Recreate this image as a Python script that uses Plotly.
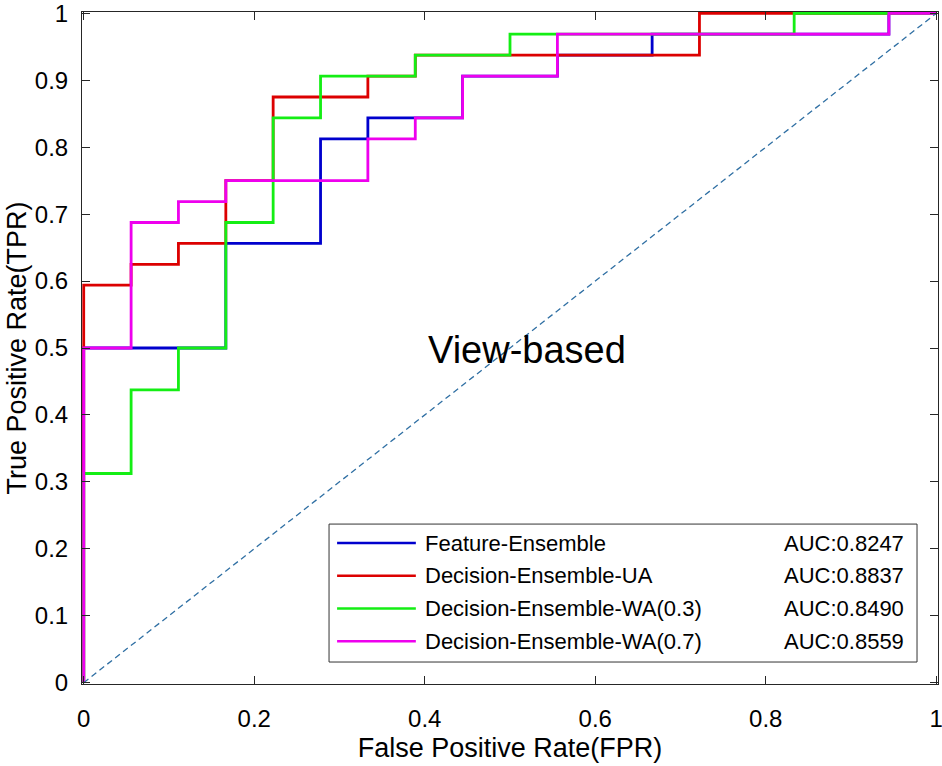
import plotly.graph_objects as go

# ROC staircase points (fpr = right end of each level, tpr = level), drawn with line_shape vh
fpr_feat = [0, 0.1667, 0.2778, 0.3333, 0.4444, 0.5556, 0.6667, 0.9444, 1]
tpr_feat = [0, 0.5, 0.6563, 0.8125, 0.8438, 0.9063, 0.9375, 0.9688, 1]

fpr_ua = [0, 0.0556, 0.1111, 0.1667, 0.2222, 0.3333, 0.3889, 0.7222, 1]
tpr_ua = [0, 0.5938, 0.625, 0.6563, 0.75, 0.875, 0.9063, 0.9375, 1]

fpr_wa3 = [0, 0.0556, 0.1111, 0.1667, 0.2222, 0.2778, 0.3889, 0.5, 0.8333, 1]
tpr_wa3 = [0, 0.3125, 0.4375, 0.5, 0.6875, 0.8438, 0.9063, 0.9375, 0.9688, 1]

fpr_wa7 = [0, 0.0556, 0.1111, 0.1667, 0.3333, 0.3889, 0.4444, 0.5556, 0.9444, 1]
tpr_wa7 = [0, 0.5, 0.6875, 0.7188, 0.75, 0.8125, 0.8438, 0.9063, 0.9688, 1]

names = ["Feature-Ensemble", "Decision-Ensemble-UA",
         "Decision-Ensemble-WA(0.3)", "Decision-Ensemble-WA(0.7)"]
auc_labels = ["AUC:0.8247", "AUC:0.8837", "AUC:0.8490", "AUC:0.8559"]
colors = ["#0000CD", "#DC0000", "#14EE14", "#EE00EE"]
curves = [(fpr_feat, tpr_feat), (fpr_ua, tpr_ua), (fpr_wa3, tpr_wa3), (fpr_wa7, tpr_wa7)]

chance = [0, 1]
font = "Liberation Sans, Arial, sans-serif"

fig = go.Figure()
for i in range(0, len(curves)):
    fig.add_trace(go.Scatter(x=curves[i][0], y=curves[i][1], mode="lines",
                             line=dict(color=colors[i], width=2.8, shape="vh"),
                             name=names[i], showlegend=False, cliponaxis=False))
fig.add_trace(go.Scatter(x=chance, y=chance, mode="lines",
                         line=dict(color="#2F6FA3", width=1.3, dash="6px,4px"),
                         showlegend=False))

# hand-made MATLAB style legend box
shapes = [dict(type="rect", xref="paper", yref="paper", x0=0.2886, x1=0.9755, y0=0.0327, y1=0.238,
               fillcolor="white", line=dict(color="#333333", width=1), layer="above")]
annotations = []
for i in range(0, len(names)):
    yy = 0.2098 - i*0.0487
    shapes.append(dict(type="line", xref="paper", yref="paper", x0=0.298, x1=0.390, y0=yy, y1=yy,
                       line=dict(color=colors[i], width=2.5), layer="above"))
    annotations.append(dict(x=0.398, y=yy, xref="paper", yref="paper", text=names[i],
                            showarrow=False, xanchor="left", yanchor="middle",
                            font=dict(size=22, color="black", family=font)))
    annotations.append(dict(x=0.9626, y=yy, xref="paper", yref="paper", text=auc_labels[i],
                            showarrow=False, xanchor="right", yanchor="middle",
                            font=dict(size=22, color="black", family=font)))
annotations.append(dict(x=0.52, y=0.497, xref="paper", yref="paper", text="View-based",
                        showarrow=False, font=dict(size=38, color="black", family=font)))

axis_style = dict(showgrid=False, zeroline=False, showline=True, linecolor="#262626", linewidth=1,
                  mirror="ticks", ticks="inside", ticklen=8, tickcolor="#262626", automargin=False,
                  ticklabeloverflow="allow",
                  range=[-0.002, 1.002], tickfont=dict(size=24, color="black", family=font))

fig.update_layout(
    width=942, height=766,
    margin=dict(l=82, r=4, t=12, b=82),
    plot_bgcolor="white", paper_bgcolor="white",
    shapes=shapes, annotations=annotations,
    xaxis=dict(tickvals=[0, 0.2, 0.4, 0.6, 0.8, 1], ticklabelstandoff=13,
               title=dict(text="False Positive Rate(FPR)", standoff=7,
                          font=dict(size=27, color="black", family=font)), **axis_style),
    yaxis=dict(tickvals=[0, 0.1, 0.2, 0.3, 0.4, 0.5, 0.6, 0.7, 0.8, 0.9, 1],
               ticklabelstandoff=8,
               title=dict(text="True Positive Rate(TPR)", standoff=0,
                          font=dict(size=27, color="black", family=font)), **axis_style),
)

fig.write_html("out.html", config={"displayModeBar": False},
               post_script="document.body.style.margin='0';")
